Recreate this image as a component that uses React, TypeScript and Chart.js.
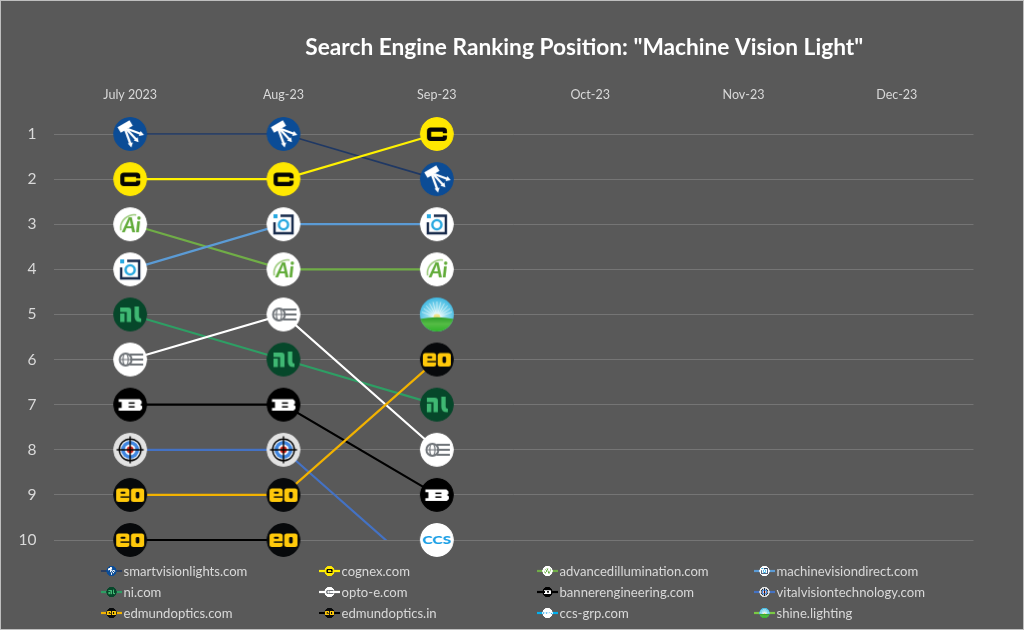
import React, { useEffect, useRef } from "react";
import { Chart, registerables } from "chart.js";

Chart.register(...registerables);

const months = ["July 2023", "Aug-23", "Sep-23", "Oct-23", "Nov-23", "Dec-23"];
const rankTicks = [1, 2, 3, 4, 5, 6, 7, 8, 9, 10];

const smartvisionlights = [1, 1, 2];
const cognex = [2, 2, 1];
const advancedillumination = [3, 4, 4];
const machinevisiondirect = [4, 3, 3];
const niCom = [5, 6, 7];
const optoE = [6, 5, 8];
const bannerengineering = [7, 7, 9];
const vitalvisiontechnology = [8, 8, 11];
const edmundopticsCom = [9, 9, 6];
const edmundopticsIn = [10, 10, null];
const ccsGrp = [null, null, 10];
const shineLighting = [null, null, 5];

const FONT = "Lato, Carlito, Calibri, sans-serif";
const TXT = "#D9D9D9";

type Painter = (c: CanvasRenderingContext2D) => void;

function rr(c: CanvasRenderingContext2D, x: number, y: number, w: number, h: number, r: number) {
  c.beginPath();
  c.roundRect(x, y, w, h, r);
}

function disc(c: CanvasRenderingContext2D) {
  c.beginPath();
  c.arc(0, 0, 17, 0, Math.PI * 2);
  c.fill();
}

const paintSmart: Painter = (c) => {
  c.fillStyle = "#0B4C96";
  disc(c);
  c.strokeStyle = "#fff";
  c.fillStyle = "#fff";
  c.lineWidth = 6.5;
  c.beginPath();
  c.moveTo(-11, -4);
  c.lineTo(1, -11);
  c.stroke();
  c.lineWidth = 2.3;
  const rays = [[11, 0], [6.5, 6], [0.5, 10.5]];
  rays.forEach(([x, y], i) => {
    c.beginPath();
    c.moveTo(-2.5 + i * -1.4, -5 + i * -0.2);
    c.lineTo(x, y);
    c.stroke();
    const a = Math.atan2(y + 5, x + 3);
    c.beginPath();
    c.moveTo(x + Math.cos(a) * 3, y + Math.sin(a) * 3);
    c.lineTo(x + Math.cos(a + 2.1) * 3, y + Math.sin(a + 2.1) * 3);
    c.lineTo(x + Math.cos(a - 2.1) * 3, y + Math.sin(a - 2.1) * 3);
    c.closePath();
    c.fill();
  });
};

const paintCognex: Painter = (c) => {
  c.fillStyle = "#FFE800";
  disc(c);
  c.strokeStyle = "#050505";
  c.lineWidth = 4.2;
  c.beginPath();
  c.moveTo(8, -0.8);
  c.lineTo(8, -2);
  c.arcTo(8, -4.4, 5.5, -4.4, 1.6);
  c.lineTo(-5.5, -4.4);
  c.arcTo(-7.8, -4.4, -7.8, -2, 1.6);
  c.lineTo(-7.8, 2.5);
  c.arcTo(-7.8, 4.9, -5.5, 4.9, 1.6);
  c.lineTo(5.5, 4.9);
  c.arcTo(8, 4.9, 8, 2.5, 1.6);
  c.lineTo(8, 1.4);
  c.stroke();
};

const paintAdv: Painter = (c) => {
  c.fillStyle = "#fff";
  disc(c);
  c.strokeStyle = "#9CCB7C";
  c.lineWidth = 1.6;
  c.beginPath();
  c.arc(4, 4, 13.5, Math.PI * 0.95, Math.PI * 1.55);
  c.stroke();
  c.fillStyle = "#62AC3A";
  c.font = "italic 900 20px Lato, sans-serif";
  c.textAlign = "center";
  c.textBaseline = "middle";
  c.fillText("Ai", 1.5, 2);
};

const paintMvd: Painter = (c) => {
  c.fillStyle = "#fff";
  disc(c);
  c.strokeStyle = "#16294A";
  c.lineWidth = 2.4;
  c.beginPath();
  c.moveTo(-3, -8.5);
  c.lineTo(9, -8.5);
  c.lineTo(9, 9);
  c.lineTo(-9, 9);
  c.lineTo(-9, -2);
  c.stroke();
  c.fillStyle = "#27A8E0";
  c.fillRect(-10, -10, 4, 4);
  c.strokeStyle = "#27A8E0";
  c.lineWidth = 2.4;
  c.beginPath();
  c.arc(0, 0.5, 4.6, 0, Math.PI * 2);
  c.stroke();
};

const paintNi: Painter = (c) => {
  c.fillStyle = "#06472A";
  disc(c);
  c.fillStyle = "#3FB873";
  c.fillRect(-10, -1, 4.4, 8.5);
  c.beginPath();
  c.moveTo(-10, -7);
  c.lineTo(-2, -7);
  c.quadraticCurveTo(1, -7, 1, -4);
  c.lineTo(1, 7.5);
  c.lineTo(-3.4, 7.5);
  c.lineTo(-3.4, -2.6);
  c.lineTo(-10, -2.6);
  c.closePath();
  c.fill();
  c.beginPath();
  c.moveTo(4.4, -8);
  c.lineTo(8.8, -8);
  c.lineTo(8.8, 2);
  c.quadraticCurveTo(8.8, 4, 11, 4);
  c.lineTo(11, 7.5);
  c.quadraticCurveTo(4.4, 8, 4.4, 2);
  c.closePath();
  c.fill();
};

const paintOpto: Painter = (c) => {
  c.fillStyle = "#fff";
  disc(c);
  c.strokeStyle = "#6E7378";
  c.lineWidth = 1.9;
  c.beginPath();
  c.arc(-4.5, 0, 6, 0, Math.PI * 2);
  c.stroke();
  c.lineWidth = 1.2;
  c.beginPath();
  c.ellipse(-4.5, 0, 2.6, 6, 0, 0, Math.PI * 2);
  c.moveTo(-10.5, 0);
  c.lineTo(-1, 0);
  c.stroke();
  c.lineWidth = 1.8;
  [-5, 0, 5].forEach((y) => {
    c.beginPath();
    c.moveTo(-0.5, y);
    c.lineTo(13, y);
    c.stroke();
  });
};

const paintBanner: Painter = (c) => {
  c.fillStyle = "#000";
  disc(c);
  c.fillStyle = "#fff";
  c.beginPath();
  c.moveTo(-11.5, -5.5);
  c.lineTo(9.5, -5.5);
  c.lineTo(11.5, -3.5);
  c.lineTo(11.5, -1);
  c.lineTo(10, 0);
  c.lineTo(12, 1.5);
  c.lineTo(12, 4);
  c.lineTo(10, 6);
  c.lineTo(-11.5, 6);
  c.lineTo(-11.5, 3.2);
  c.lineTo(-8.5, 3.2);
  c.lineTo(-8.5, -2.7);
  c.lineTo(-11.5, -2.7);
  c.closePath();
  c.fill();
  c.fillStyle = "#000";
  c.fillRect(-1.5, -2.4, 6, 1.5);
  c.fillRect(-1.5, 1.4, 6, 1.5);
};

const paintVital: Painter = (c) => {
  c.fillStyle = "#E2E2E2";
  disc(c);
  c.fillStyle = "#fff";
  c.beginPath();
  c.arc(0, 0, 10.8, 0, Math.PI * 2);
  c.fill();
  c.fillStyle = "#3F86E0";
  c.beginPath();
  c.arc(0, 0, 9, 0, Math.PI * 2);
  c.fill();
  c.fillStyle = "#fff";
  c.beginPath();
  c.arc(0, 0, 5.4, 0, Math.PI * 2);
  c.fill();
  c.fillStyle = "#D8261C";
  c.beginPath();
  c.arc(0, 0, 3.4, 0, Math.PI * 2);
  c.fill();
  c.strokeStyle = "#000";
  c.lineWidth = 1.4;
  c.beginPath();
  c.arc(0, 0, 10.8, 0, Math.PI * 2);
  c.moveTo(-13.5, 0);
  c.lineTo(13.5, 0);
  c.moveTo(0, -13.5);
  c.lineTo(0, 13.5);
  c.stroke();
};

const paintEdmund: Painter = (c) => {
  c.fillStyle = "#07090B";
  disc(c);
  c.fillStyle = "#FFC90A";
  rr(c, -14, -6.5, 13.2, 13.5, 2.5);
  c.fill();
  rr(c, 0.8, -6.5, 13.2, 13.5, 2.5);
  c.fill();
  c.fillStyle = "#07090B";
  rr(c, -9.6, -3.3, 5, 2, 1);
  c.fill();
  c.fillRect(-9.6, 1.4, 8.8, 1.4);
  rr(c, 5.6, -3, 3.6, 6.5, 1.4);
  c.fill();
};

const paintCcs: Painter = (c) => {
  c.fillStyle = "#fff";
  disc(c);
  c.fillStyle = "#1A9FE6";
  c.font = "900 12px Lato, sans-serif";
  c.textAlign = "center";
  c.textBaseline = "middle";
  c.save();
  c.scale(1.3, 1);
  c.fillText("CCS", 0, 0.5);
  c.restore();
};

const paintShine: Painter = (c) => {
  const sky = c.createRadialGradient(0, 3, 2, 0, 3, 24);
  sky.addColorStop(0, "#E8F8FB");
  sky.addColorStop(0.35, "#8FDCEF");
  sky.addColorStop(1, "#1FA9DC");
  c.fillStyle = sky;
  c.fillRect(-17, -17, 34, 34);
  c.strokeStyle = "rgba(255,255,255,0.6)";
  c.lineWidth = 0.9;
  for (let a = 200; a <= 340; a += 14) {
    c.beginPath();
    c.moveTo(0, 3);
    c.lineTo(16 * Math.cos((a * Math.PI) / 180), 3 + 16 * Math.sin((a * Math.PI) / 180));
    c.stroke();
  }
  c.fillStyle = "#F3E48A";
  c.beginPath();
  c.arc(0, 3, 3.4, 0, Math.PI * 2);
  c.fill();
  const hill = c.createLinearGradient(0, 2, 0, 17);
  hill.addColorStop(0, "#2A9A28");
  hill.addColorStop(0.5, "#55BC45");
  hill.addColorStop(1, "#2FB32B");
  c.fillStyle = hill;
  c.beginPath();
  c.moveTo(-17, 4.5);
  c.quadraticCurveTo(0, 1, 17, 4.5);
  c.lineTo(17, 17);
  c.lineTo(-17, 17);
  c.closePath();
  c.fill();
};

function icon(p: Painter): HTMLCanvasElement {
  const cv = document.createElement("canvas");
  cv.width = 36;
  cv.height = 36;
  const c = cv.getContext("2d")!;
  c.translate(18, 18);
  c.save();
  c.beginPath();
  c.arc(0, 0, 17, 0, Math.PI * 2);
  c.clip();
  p(c);
  c.restore();
  return cv;
}

const seriesNames = [
  "smartvisionlights.com", "cognex.com", "advancedillumination.com", "machinevisiondirect.com",
  "ni.com", "opto-e.com", "bannerengineering.com", "vitalvisiontechnology.com",
  "edmundoptics.com", "edmundoptics.in", "ccs-grp.com", "shine.lighting",
];
const seriesValues = [
  smartvisionlights, cognex, advancedillumination, machinevisiondirect,
  niCom, optoE, bannerengineering, vitalvisiontechnology,
  edmundopticsCom, edmundopticsIn, ccsGrp, shineLighting,
];
const seriesColors = [
  "#1F3864", "#FFF200", "#70AD47", "#5B9BD5", "#2E9E64", "#FFFFFF",
  "#000000", "#4472C4", "#F2B200", "#000000", "#00B0F0", "#7AC943",
];
const seriesWidths = [1.6, 2.2, 2.2, 2.2, 2.2, 2.2, 2.2, 2.2, 2.2, 2, 2.2, 2.2];
const painters = [
  paintSmart, paintCognex, paintAdv, paintMvd, paintNi, paintOpto,
  paintBanner, paintVital, paintEdmund, paintEdmund, paintCcs, paintShine,
];

const legendColumns = [101, 319, 537, 754];
const legendRows = [571, 592, 613];

const layoutTweaks = {
  id: "layoutTweaks",
  afterLayout(chart: any) {
    // the workbook's title sits right of the plot centre
    if (chart.titleBlock) chart.titleBlock.left = 195;
  },
  afterDraw(chart: any) {
    const c: CanvasRenderingContext2D = chart.ctx;
    c.save();
    c.font = `13.1px ${FONT}`;
    c.textBaseline = "middle";
    c.textAlign = "left";
    chart.data.datasets.forEach((ds: any, i: number) => {
      const x = legendColumns[i % 4];
      const y = legendRows[Math.floor(i / 4)];
      c.strokeStyle = ds.borderColor;
      c.lineWidth = ds.borderWidth;
      c.beginPath();
      c.moveTo(x, y);
      c.lineTo(x + 21, y);
      c.stroke();
      c.drawImage(ds.pointStyle, x + 5, y - 5.5, 11, 11);
      c.fillStyle = TXT;
      c.fillText(ds.label, x + 22.5, y + 0.5);
    });
    c.restore();
  },
};

export default function App() {
  const ref = useRef<HTMLCanvasElement>(null);
  useEffect(() => {
    const chart = new Chart(ref.current!, {
      type: "line",
      data: {
        labels: months,
        datasets: seriesNames.map((label, i) => ({
          label,
          data: seriesValues[i],
          borderColor: seriesColors[i],
          backgroundColor: seriesColors[i],
          borderWidth: seriesWidths[i],
          pointStyle: icon(painters[i]),
          pointRadius: 17,
          tension: 0,
          spanGaps: false,
          order: 12 - i,
          // markers overhang the plot; only the series that falls off rank 10 is cut at the axis
          clip: i === 7 ? { left: false, right: false, top: false, bottom: 0 } : false,
        })),
      } as any,
      options: {
        responsive: false,
        animation: false,
        devicePixelRatio: 1,
        layout: { padding: { left: 0, right: 50.5, top: 0, bottom: 90 } },
        plugins: {
          legend: { display: false },
          tooltip: { enabled: false },
          title: {
            display: true,
            text: 'Search Engine Ranking Position: "Machine Vision Light"',
            color: "#FFFFFF",
            font: { family: FONT, size: 22.7, weight: "bold", lineHeight: 1.2 },
            padding: { top: 34, bottom: 10 },
          },
        },
        scales: {
          x: {
            position: "top",
            offset: true,
            grid: { display: false },
            border: { display: false },
            ticks: { color: TXT, font: { family: FONT, size: 12.5 }, padding: 24, maxRotation: 0 },
            afterFit(s: any) {
              s.height = 134 - (34 + 10 + 22.7 * 1.2);
            },
          },
          y: {
            reverse: true,
            min: 1,
            max: 10,
            afterBuildTicks(s: any) {
              s.ticks = rankTicks.map((value) => ({ value }));
            },
            grid: { color: "#757575", lineWidth: 1, drawTicks: false },
            border: { display: false },
            ticks: { color: TXT, font: { family: FONT, size: 15.5 }, padding: 17 },
            afterFit(s: any) {
              s.width = 53.5;
            },
          },
        },
      } as any,
      plugins: [layoutTweaks],
    });
    return () => chart.destroy();
  }, []);
  return (
    <div style={{ position: "absolute", left: 0, top: 0, width: 1024, height: 630, background: "#595959", overflow: "hidden" }}>
      <canvas ref={ref} width={1024} height={630} style={{ display: "block" }} />
      <div style={{ position: "absolute", inset: 0, border: "1px solid #BFBFBF", boxSizing: "border-box", pointerEvents: "none" }} />
    </div>
  );
}
